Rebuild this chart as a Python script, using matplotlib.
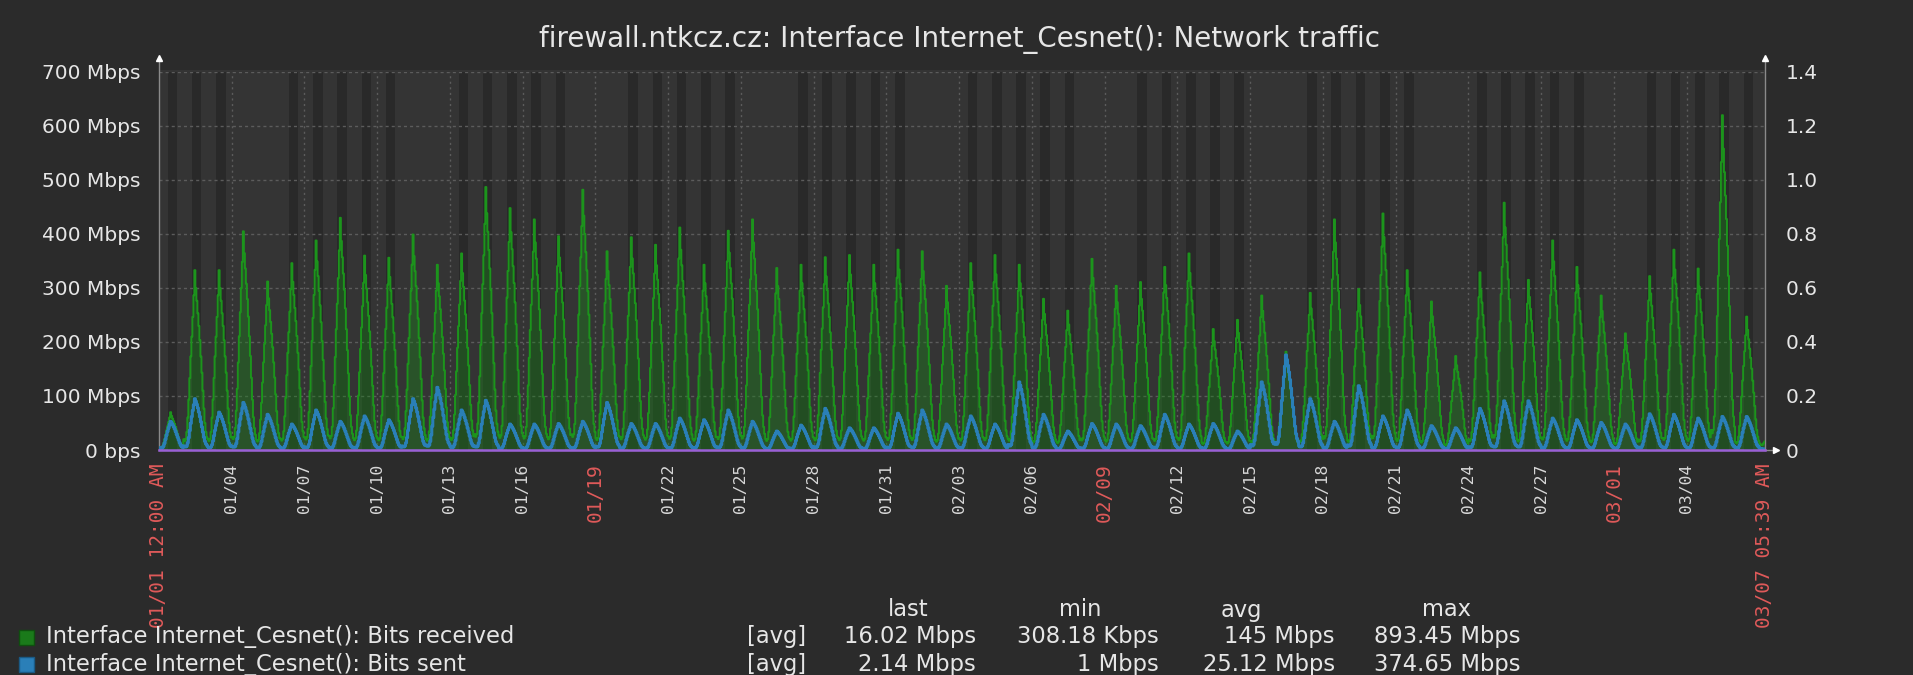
import matplotlib
matplotlib.use('Agg')
import matplotlib.pyplot as plt
from matplotlib.patches import Rectangle
from matplotlib.lines import Line2D
import numpy as np
import pandas as pd

# ---------------- data ----------------
title = "firewall.ntkcz.cz: Interface Internet_Cesnet(): Network traffic"
start = pd.Timestamp('2024-01-01 00:00')
end = pd.Timestamp('2024-03-07 05:39')

# daily peak of hourly averages (Mbps), day 0 = 01/01
rx_peak = [70, 333, 333, 405, 312, 346, 388, 430, 360, 356,
           399, 343, 364, 487, 448, 427, 396, 482, 368, 394,
           380, 412, 343, 406, 427, 337, 343, 357, 361, 343,
           371, 368, 304, 346, 361, 343, 280, 258, 354, 304,
           311, 339, 364, 224, 241, 286, 182, 291, 427, 298,
           438, 333, 275, 174, 329, 458, 315, 388, 339, 286,
           216, 322, 371, 336, 620, 247]
tx_peak = [53, 95, 70, 88, 66, 48, 74, 53, 63, 56,
           95, 116, 74, 92, 48, 48, 49, 53, 88, 49,
           49, 59, 56, 74, 53, 35, 46, 77, 41, 41,
           68, 74, 48, 63, 48, 126, 66, 35, 49, 48,
           45, 66, 48, 49, 35, 126, 176, 95, 53, 119,
           63, 74, 45, 41, 77, 91, 91, 59, 56, 51,
           48, 67, 66, 59, 62, 62]
# typical hourly profile of a day (fraction of the day's peak), hours 0..23
rx_shape = [0.06, 0.05, 0.06, 0.10, 0.18, 0.28, 0.40, 0.52, 0.63, 0.74, 0.86, 1.00,
            0.90, 0.83, 0.76, 0.69, 0.61, 0.52, 0.43, 0.33, 0.23, 0.15, 0.10, 0.07]
tx_shape = [0.08, 0.06, 0.06, 0.08, 0.14, 0.24, 0.38, 0.52, 0.65, 0.77, 0.88, 1.00,
            0.95, 0.89, 0.82, 0.74, 0.65, 0.55, 0.45, 0.35, 0.25, 0.17, 0.12, 0.09]
# last partial day 03/07 00:00-05:39
rx_tail = [12, 10, 9, 10, 13, 16]
tx_tail = [3.0, 2.5, 2.2, 2.0, 2.0, 2.1]

y_ticks = [0, 100, 200, 300, 400, 500, 600, 700]
y_labels = ['0 bps', '100 Mbps', '200 Mbps', '300 Mbps', '400 Mbps',
            '500 Mbps', '600 Mbps', '700 Mbps']
r_ticks = [0, 0.2, 0.4, 0.6, 0.8, 1.0, 1.2, 1.4]
r_labels = ['0', '0.2', '0.4', '0.6', '0.8', '1.0', '1.2', '1.4']

tick_dates = ['2024-01-04', '2024-01-07', '2024-01-10', '2024-01-13', '2024-01-16',
              '2024-01-19', '2024-01-22', '2024-01-25', '2024-01-28', '2024-01-31',
              '2024-02-03', '2024-02-06', '2024-02-09', '2024-02-12', '2024-02-15',
              '2024-02-18', '2024-02-21', '2024-02-24', '2024-02-27', '2024-03-01',
              '2024-03-04']
red_dates = ['2024-01-19', '2024-02-09', '2024-03-01']
start_label = '01/01 12:00 AM'
end_label = '03/07 05:39 AM'

legend_names = ['Interface Internet_Cesnet(): Bits received',
                'Interface Internet_Cesnet(): Bits sent']
stat_cols = ['last', 'min', 'avg', 'max']
stats_rx = ['16.02 Mbps', '308.18 Kbps', '145 Mbps', '893.45 Mbps']
stats_tx = ['2.14 Mbps', '1 Mbps', '25.12 Mbps', '374.65 Mbps']

# ---------------- series ----------------
rx_vals, tx_vals = [], []
for p, q in zip(rx_peak, tx_peak):
    rx_vals += [p * f for f in rx_shape]
    tx_vals += [q * f for f in tx_shape]
rx_vals += rx_tail
tx_vals += tx_tail
times = pd.date_range(start, periods=len(rx_vals), freq='h')
times = times.append(pd.DatetimeIndex([end]))
rx_vals = np.array(rx_vals + [rx_vals[-1]])
tx_vals = np.array(tx_vals + [tx_vals[-1]])

# ---------------- layout ----------------
W, H = 1913, 675
BG = '#2b2b2b'
PLOT_BG = '#343434'
WORK_BG = '#292929'
TXT = '#e6e6e6'
RED = '#e05a5a'
GRID = '#5c5c5c'

L, R, T, B = 159, 1765, 72, 450
fig = plt.figure(figsize=(W / 100, H / 100), dpi=100, facecolor=BG)
ax = fig.add_axes([L / W, 1 - B / H, (R - L) / W, (B - T) / H])
ax.set_facecolor(BG)
ax.set_xlim(start, end)
ax.set_ylim(0, 700)
for s in ax.spines.values():
    s.set_visible(False)
ax.add_patch(Rectangle((0, 0), 1, 1.006, transform=ax.transAxes, facecolor=PLOT_BG,
                       lw=0, zorder=0, clip_on=False))

# working-time shading
for d in range(67):
    if d % 7 in (3, 4):
        continue
    a = start + pd.Timedelta(days=d, hours=8.5)
    b = start + pd.Timedelta(days=d, hours=18)
    if a < end:
        ax.axvspan(a, min(b, end), ymax=1.006, color=WORK_BG, lw=0, zorder=0.5)

# grid
for yv in y_ticks[1:]:
    ax.axhline(yv, color=GRID, lw=1, ls=(0, (2.2, 2.2)), zorder=1)
for td in tick_dates:
    ax.axvline(pd.Timestamp(td), color=GRID, lw=1, ls=(0, (1.5, 2.5)), zorder=1)

# series
ax.fill_between(times, 0, rx_vals, step='post', color='#1a801a', alpha=0.42, lw=0, zorder=2)
ax.plot(times, rx_vals, drawstyle='steps-post', color='#1c941c', lw=1.4, zorder=3)
ax.plot(times, tx_vals, drawstyle='steps-post', color='#2a7fb8', lw=2.2, zorder=4)

# right axis
ax2 = ax.twinx()
ax2.set_ylim(0, 1.4)
for s in ax2.spines.values():
    s.set_visible(False)
ax2.plot([start, end], [0, 0], color='#9a5fd6', lw=1.8, zorder=5, clip_on=False)

ax.set_yticks(y_ticks)
ax.set_yticklabels(y_labels)
ax.tick_params(axis='y', length=0, pad=13, labelsize=14.5, labelcolor=TXT)
ax2.set_yticks(r_ticks)
ax2.set_yticklabels(r_labels)
ax2.tick_params(axis='y', length=0, pad=15, labelsize=14.5, labelcolor=TXT)

xt = [start] + [pd.Timestamp(t) for t in tick_dates] + [end]
xl = [start_label] + [pd.Timestamp(t).strftime('%m/%d') for t in tick_dates] + [end_label]
ax.set_xticks(xt)
ax.set_xticklabels(xl, rotation=90, family='DejaVu Sans Mono')
ax.tick_params(axis='x', length=0, pad=9.5, labelcolor='#d8d8d8', labelsize=11.8)
for lab, t in zip(ax.get_xticklabels(), xt):
    ts = pd.Timestamp(t)
    if ts in (start, end) or ts.strftime('%Y-%m-%d') in red_dates:
        lab.set_color(RED)
        lab.set_fontsize(14)

# axis lines and arrows
AX_C = '#8a8a8a'
ax.add_line(Line2D([0, 0], [0, 1.026], transform=ax.transAxes, color=AX_C, lw=1, clip_on=False))
ax.add_line(Line2D([1, 1], [0, 1.026], transform=ax.transAxes, color=AX_C, lw=1, clip_on=False))
ax.add_line(Line2D([0, 1.006], [0, 0], transform=ax.transAxes, color=AX_C, lw=1, clip_on=False, zorder=0))
ax.plot([0], [1.036], marker='^', ms=5, color='white', transform=ax.transAxes, clip_on=False)
ax.plot([1], [1.036], marker='^', ms=5, color='white', transform=ax.transAxes, clip_on=False)
ax.plot([1.007], [0], marker='>', ms=5, color='white', transform=ax.transAxes, clip_on=False)

# title
fig.text(960 / W, 1 - 40 / H, title, ha='center', va='center', color=TXT, fontsize=20)

# legend
def fx(x):
    return x / W
def fy(y):
    return 1 - y / H

FS = 16.3
sq_colors = [('#1a7a1a', '#0f4f0f'), ('#2a7fb8', '#1a5a85')]
rows_y = [637, 664]
for (fc, ec), name, yy in zip(sq_colors, legend_names, rows_y):
    fig.add_artist(Rectangle((fx(19), fy(yy + 8)), 15 / W, 15 / H, transform=fig.transFigure,
                             facecolor=fc, edgecolor=ec, lw=1))
    fig.text(fx(46), fy(yy), name, ha='left', va='center', color=TXT, fontsize=FS)
    fig.text(fx(747), fy(yy), '[avg]', ha='left', va='center', color=TXT, fontsize=FS)

col_right = [976, 1159, 1335, 1520]
col_head = [908, 1080, 1241, 1447]
for c, xh in zip(stat_cols, col_head):
    fig.text(fx(xh), fy(610), c, ha='center', va='center', color=TXT, fontsize=FS)
for vals, yy in zip([stats_rx, stats_tx], rows_y):
    for v, xr in zip(vals, col_right):
        fig.text(fx(xr), fy(yy), v, ha='right', va='center', color=TXT, fontsize=FS)

fig.savefig('out.png', dpi=100, facecolor=BG)
